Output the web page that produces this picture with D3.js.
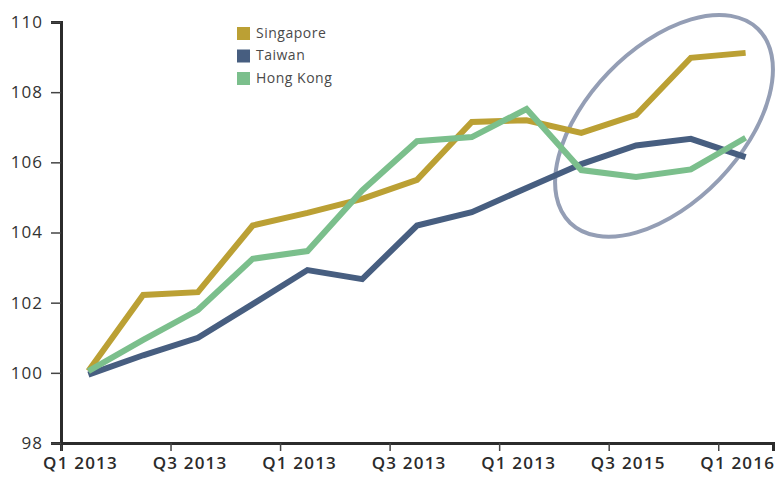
<!DOCTYPE html>
<html>
<head>
<meta charset="utf-8">
<script src="https://cdn.jsdelivr.net/npm/d3@7"></script>
<style>
  body { margin: 0; background: #fff; }
  svg { display: block; }
</style>
</head>
<body>
<div id="chart"><svg width="776" height="480"></svg></div>
<script>
// quarterly index values (13 quarters)
const singapore = [100.05, 102.22, 102.3, 104.2, 104.56, 104.96, 105.5, 107.15, 107.2, 106.84, 107.35, 108.98, 109.12];
const taiwan    = [99.95, 100.5, 101.0, 101.96, 102.93, 102.67, 104.2, 104.58, 105.27, 105.95, 106.48, 106.67, 106.15];
const hongKong  = [100.05, 100.94, 101.79, 103.25, 103.47, 105.2, 106.6, 106.72, 107.52, 105.78, 105.58, 105.8, 106.7];

// x tick labels (as printed on the original), one every two quarters
const xTickLabels = ["Q1 2013", "Q3 2013", "Q1 2013", "Q3 2013", "Q1 2013", "Q3 2015", "Q1 2016"];
const yTicks = [98, 100, 102, 104, 106, 108, 110];

const seriesNames = ["Singapore", "Taiwan", "Hong Kong"];
const seriesColors = ["#bba034", "#475e80", "#7bbf8c"];

const FONT = "'Open Sans', Lato, sans-serif";

/**********************
***** BASIC SETUP *****
**********************/
const svg = d3.select("#chart").select("svg");
const margin = {top: 22, left: 61, right: 3, bottom: 37};
const width = 776, height = 480;

let xScale = d3.scaleLinear()
    .domain([-0.5, singapore.length - 0.5])
    .range([margin.left, width - margin.right]);

let yScale = d3.scaleLinear()
    .domain([98, 110])
    .range([height - margin.bottom, margin.top]);

/****************
***** AXES *****
****************/
let xTickVals = xTickLabels.map((d, i) => i * 2 - 0.5);

let xAxis = d3.axisBottom(xScale)
    .tickValues(xTickVals)
    .tickSize(8)
    .tickPadding(6)
    .tickFormat((d, i) => xTickLabels[i]);

let yAxis = d3.axisLeft(yScale)
    .tickValues(yTicks)
    .tickSize(10)
    .tickPadding(9);

let gx = svg.append("g")
    .attr("transform", "translate(0," + (height - margin.bottom) + ")")
    .call(xAxis)
    .attr("font-family", null);
gx.select(".domain").attr("stroke", "#2b2b2b").attr("stroke-width", 3);
gx.selectAll(".tick line").attr("stroke", "#444").attr("stroke-width", 1.5);
// labels sit a little to the right of their tick in the original
gx.selectAll("text")
    .style("font-family", FONT)
    .style("font-size", "17px")
    .style("font-weight", "600")
    .style("letter-spacing", "1.2px")
    .attr("dx", 19)
    .attr("fill", "#2b2b2b");

let gy = svg.append("g")
    .attr("transform", "translate(" + margin.left + ",0)")
    .call(yAxis)
    .attr("font-family", null);
gy.select(".domain").attr("stroke", "#2b2b2b").attr("stroke-width", 3);
gy.selectAll(".tick line").attr("stroke", "#444").attr("stroke-width", 1.5);
gy.selectAll("text")
    .style("font-family", FONT)
    .style("font-size", "17px")
    .style("letter-spacing", "1px")
    .attr("dx", 1)
    .attr("fill", "#333");

/**********************
***** ANNOTATION *****
**********************/
// ellipse around the last quarters
svg.append("ellipse")
    .attr("cx", 0).attr("cy", 0)
    .attr("rx", 135).attr("ry", 77)
    .attr("transform", "translate(" + xScale(10.51) + "," + yScale(107.04) + ") rotate(-46)")
    .attr("fill", "none")
    .attr("stroke", "#949eb5")
    .attr("stroke-width", 4);

/****************
***** LINES *****
****************/
let line = d3.line()
    .x((d, i) => xScale(i))
    .y(d => yScale(d));

let allSeries = [singapore, taiwan, hongKong];
svg.selectAll(".seriesLine")
    .data(allSeries)
    .enter()
    .append("path")
    .attr("class", "seriesLine")
    .attr("d", d => line(d))
    .attr("fill", "none")
    .attr("stroke", (d, i) => seriesColors[i])
    .attr("stroke-width", 6)
    .attr("stroke-linejoin", "miter");

/*****************
***** LEGEND *****
*****************/
let legend = svg.append("g").attr("transform", "translate(237,27)");
let items = legend.selectAll(".legendItem")
    .data(seriesNames)
    .enter()
    .append("g")
    .attr("class", "legendItem")
    .attr("transform", (d, i) => "translate(0," + i * 22.5 + ")");
items.append("rect")
    .attr("width", 13).attr("height", 13)
    .attr("fill", (d, i) => seriesColors[i]);
items.append("text")
    .attr("x", 19).attr("y", 7)
    .attr("dominant-baseline", "middle")
    .style("font-family", FONT)
    .style("font-size", "14px")
    .style("letter-spacing", "0.5px")
    .attr("fill", "#4a4a4a")
    .text(d => d);
</script>
</body>
</html>
